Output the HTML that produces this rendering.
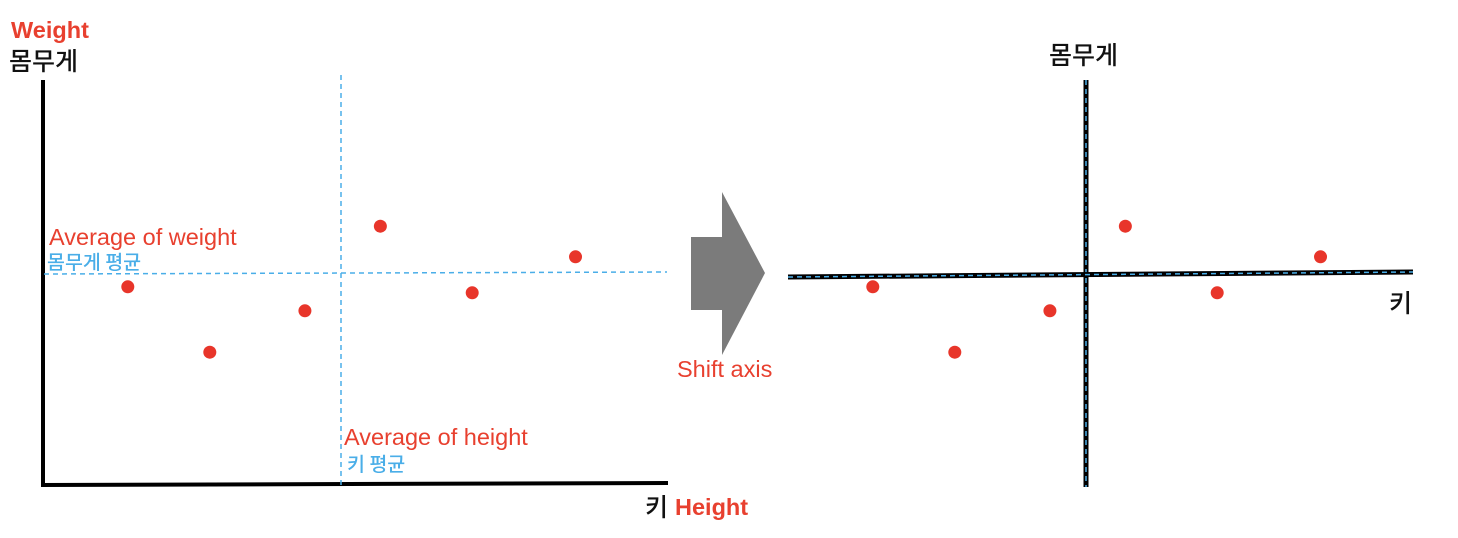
<!DOCTYPE html>
<html><head><meta charset="utf-8"><style>
html,body{margin:0;padding:0;background:#fff;width:1458px;height:538px;overflow:hidden}
svg{display:block}
text{font-family:"Liberation Sans","Noto Sans CJK KR",sans-serif}
.ko{font-family:"Noto Sans CJK KR",sans-serif;font-weight:500}
</style></head><body>
<svg id="chart" width="1458" height="538" viewBox="0 0 1458 538">
<text x="11" y="38" font-size="23.5" font-weight="bold" fill="#e8402f">Weight</text>
<text class="ko" x="9" y="70" font-size="25" fill="#111">몸무게</text>
<line x1="43" y1="80" x2="43" y2="487" stroke="#000" stroke-width="4"/>
<line x1="41" y1="485" x2="668" y2="483" stroke="#000" stroke-width="4"/>
<line x1="341" y1="75" x2="341" y2="485" stroke="#4aaee8" stroke-width="1.5" stroke-dasharray="5,4"/>
<line x1="44" y1="274" x2="667" y2="272" stroke="#4aaee8" stroke-width="1.5" stroke-dasharray="5,4"/>
<text x="49" y="245" font-size="23.5" fill="#e8402f">Average of weight</text>
<text class="ko" x="47" y="269" font-size="19.5" fill="#4aaee8">몸무게 평균</text>
<text x="344" y="445" font-size="23.5" fill="#e8402f">Average of height</text>
<text class="ko" x="347" y="471" font-size="19.5" fill="#4aaee8">키 평균</text>
<text class="ko" x="645" y="516" font-size="25" fill="#111">키</text>
<text x="675" y="515" font-size="23.5" font-weight="bold" fill="#e8402f">Height</text>
<polygon points="691,237 722,237 722,192 765,273 722,355 722,310 691,310" fill="#7b7b7b"/>
<text x="677" y="377" font-size="23.5" fill="#e8402f">Shift axis</text>
<text class="ko" x="1049" y="64" font-size="25" fill="#111">몸무게</text>
<text class="ko" x="1389" y="312" font-size="25" fill="#111">키</text>
<line x1="1086" y1="80" x2="1086" y2="487" stroke="#000" stroke-width="5"/>
<line x1="1086" y1="80" x2="1086" y2="487" stroke="#4aaee8" stroke-width="1.5" stroke-dasharray="5,4"/>
<line x1="788" y1="277" x2="1413" y2="272" stroke="#000" stroke-width="5"/>
<line x1="788" y1="277" x2="1413" y2="272" stroke="#4aaee8" stroke-width="1.5" stroke-dasharray="5,4"/>
<g id="pts"></g>
</svg>
<script>
const heights = [152.0, 157.0, 162.8, 167.4, 173.0, 179.3];
const weights = [57.7, 46.8, 53.7, 67.8, 56.7, 62.7];
const meanHeight = 165;
const meanWeight = 60;
function xLeft(h){return 341 + (h - meanHeight) * 16.4;}
function xRight(h){return 1086 + (h - meanHeight) * 16.4;}
function yScale(w){return 273 - (w - meanWeight) * 6;}
const g = document.getElementById('pts');
const ns = 'http://www.w3.org/2000/svg';
for (let i = 0; i < heights.length; i++) {
  const a = document.createElementNS(ns, 'circle');
  a.setAttribute('cx', xLeft(heights[i]));
  a.setAttribute('cy', yScale(weights[i]));
  a.setAttribute('r', 6.5);
  a.setAttribute('fill', '#e8352a');
  
  
  g.appendChild(a);
  const b = document.createElementNS(ns, 'circle');
  b.setAttribute('cx', xRight(heights[i]));
  b.setAttribute('cy', yScale(weights[i]));
  b.setAttribute('r', 6.5);
  b.setAttribute('fill', '#e8352a');
  
  
  g.appendChild(b);
}
</script>
</body></html>
